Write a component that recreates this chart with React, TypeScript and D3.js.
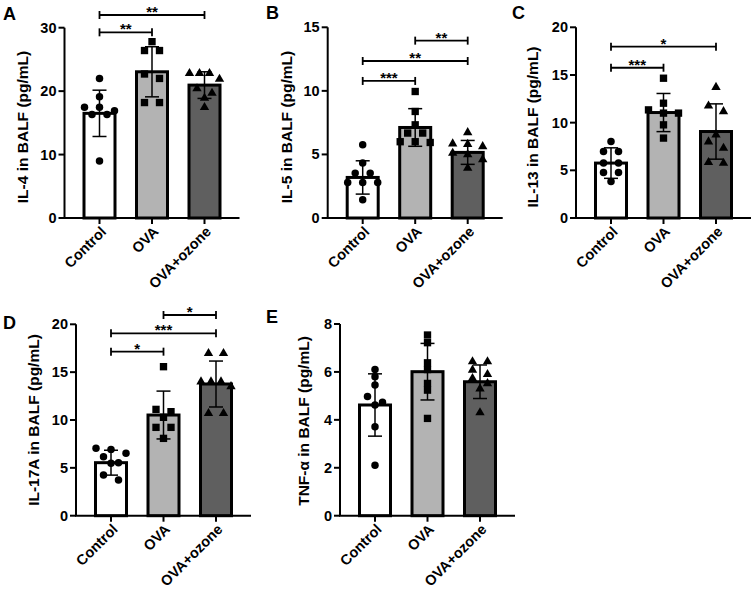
import React from 'react';
import * as d3 from 'd3';

// groups shared by every panel
const groups = ['Control', 'OVA', 'OVA+ozone'];
const fills = ['#ffffff', '#b3b3b3', '#5f5f5f'];

// A: IL-4
const il4Mean = [16.5, 23.05, 20.95];
const il4Sd = [3.65, 3.95, 2.1];
const il4Control = [22, 19.1, 17.45, 17.45, 16.9, 16.3, 16.3, 9.0];
const il4Ova = [27.8, 26.4, 26.4, 22.7, 22.0, 18.2, 18.2];
const il4Ozone = [22.8, 22.8, 22.8, 21.9, 20.4, 19.7, 18.9, 17.45];
const il4Ticks = [0, 10, 20, 30];
const il4Sig: [number, number, number, string][] = [[0, 1, 29.27, '**'], [0, 2, 32.0, '**']];

// B: IL-5
const il5Mean = [3.19, 7.12, 5.16];
const il5Sd = [1.31, 1.48, 0.94];
const il5Control = [5.76, 4.32, 3.53, 3.53, 2.8, 2.8, 2.8, 1.44];
const il5Ova = [9.95, 8.38, 7.33, 6.68, 6.68, 6.0, 6.0, 5.94];
const il5Ozone = [6.73, 5.84, 5.8, 5.63, 5.1, 5.0, 4.6, 3.93];
const il5Ticks = [0, 5, 10, 15];
const il5Sig: [number, number, number, string][] = [[0, 1, 10.78, '***'], [0, 2, 12.35, '**'], [1, 2, 13.95, '**']];

// C: IL-13
const il13Mean = [5.76, 11.06, 9.07];
const il13Sd = [1.6, 2.0, 2.9];
const il13Control = [8.03, 6.98, 6.98, 5.76, 5.76, 4.78, 4.78, 3.84];
const il13Ova = [14.66, 12.04, 11.34, 11.0, 11.0, 9.77, 8.38];
const il13Ozone = [13.72, 11.76, 11.17, 8.73, 8.0, 7.33, 5.83, 5.76];
const il13Ticks = [0, 5, 10, 15, 20];
const il13Sig: [number, number, number, string][] = [[0, 1, 15.76, '***'], [0, 2, 17.97, '*']];

// D: IL-17A
const il17Mean = [5.54, 10.52, 13.76];
const il17Sd = [1.3, 2.5, 2.4];
const il17Control = [7.04, 6.93, 6.52, 6.17, 5.54, 5.47, 4.25, 3.73];
const il17Ova = [15.57, 11.11, 10.87, 10.28, 9.23, 9.23, 8.08];
const il17Ozone = [16.97, 16.97, 14.0, 14.0, 14.0, 13.5, 10.7, 10.7];
const il17Ticks = [0, 5, 10, 15, 20];
const il17Sig: [number, number, number, string][] = [[0, 1, 17.14, '*'], [0, 2, 19.06, '***'], [1, 2, 20.97, '*']];

// E: TNF-α
const tnfMean = [4.62, 6.01, 5.59];
const tnfSd = [1.3, 1.18, 0.7];
const tnfControl = [6.1, 5.8, 5.45, 4.97, 4.73, 4.62, 3.71, 2.11];
const tnfOva = [7.54, 7.22, 6.38, 6.1, 5.52, 5.24, 4.06];
const tnfOzone = [6.43, 6.43, 6.08, 5.9, 5.73, 5.52, 5.3, 4.3];
const tnfTicks = [0, 2, 4, 6, 8];

const FONT = 'Arial, "Liberation Sans", sans-serif';
const PLOT_W = 175;
const BAR_W = 31;

type PanelDef = {
  letter: string; lx: number; ly: number;
  title: string; tx: number; ty: number;
  ax: number; y0: number; yTop: number;
  ticks: number[];
  mean: number[]; sd: number[]; points: number[][];
  sig: [number, number, number, string][];
};

const panels: PanelDef[] = [
  { letter: 'A', lx: 3, ly: 20, title: 'IL-4 in BALF (pg/mL)', tx: 22, ty: 127, ax: 64.5, y0: 218, yTop: 27.7,
    ticks: il4Ticks, mean: il4Mean, sd: il4Sd, points: [il4Control, il4Ova, il4Ozone], sig: il4Sig },
  { letter: 'B', lx: 266, ly: 19, title: 'IL-5 in BALF (pg/mL)', tx: 286, ty: 127, ax: 327.7, y0: 218, yTop: 27.3,
    ticks: il5Ticks, mean: il5Mean, sd: il5Sd, points: [il5Control, il5Ova, il5Ozone], sig: il5Sig },
  { letter: 'C', lx: 512, ly: 19, title: 'IL-13 in BALF (pg/mL)', tx: 532, ty: 127, ax: 576, y0: 218, yTop: 27.3,
    ticks: il13Ticks, mean: il13Mean, sd: il13Sd, points: [il13Control, il13Ova, il13Ozone], sig: il13Sig },
  { letter: 'D', lx: 3, ly: 329, title: 'IL-17A in BALF (pg/mL)', tx: 33, ty: 420, ax: 76, y0: 515.7, yTop: 324.3,
    ticks: il17Ticks, mean: il17Mean, sd: il17Sd, points: [il17Control, il17Ova, il17Ozone], sig: il17Sig },
  { letter: 'E', lx: 266, ly: 323, title: 'TNF-α in BALF (pg/mL)', tx: 303, ty: 421, ax: 340, y0: 515.7, yTop: 324,
    ticks: tnfTicks, mean: tnfMean, sd: tnfSd, points: [tnfControl, tnfOva, tnfOzone], sig: [] },
];

const symbols = [d3.symbolCircle, d3.symbolSquare, d3.symbolTriangle];
const symbolSizes = [44, 54, 38];

// spread points of one group into rows like a scatter dot plot
function swarm(values: number[], y: d3.ScaleLinear<number, number>) {
  const sorted = values.map((v) => ({ v, py: y(v) })).sort((a, b) => a.py - b.py);
  const rows: { v: number; py: number }[][] = [];
  sorted.forEach((p) => {
    const last = rows[rows.length - 1];
    if (last && p.py - last[0].py < 6.5) last.push(p);
    else rows.push([p]);
  });
  const out: { v: number; dx: number }[] = [];
  rows.forEach((row) => {
    const n = row.length;
    const gap = n > 1 ? Math.min(15, 30 / (n - 1)) : 0;
    row.forEach((p, i) => out.push({ v: p.v, dx: (i - (n - 1) / 2) * gap }));
  });
  return out;
}

function Panel({ p }: { p: PanelDef }) {
  const y = d3.scaleLinear().domain([0, p.ticks[p.ticks.length - 1]]).range([p.y0, p.yTop]);
  const x = d3.scalePoint<string>().domain(groups).range([p.ax, p.ax + PLOT_W]).padding(2 / 3);

  return (
    <g>
      <text x={p.lx} y={p.ly} fontSize={18} fontWeight="bold" fontFamily={FONT}>{p.letter}</text>
      <text
        transform={`translate(${p.tx},${p.ty}) rotate(-90)`}
        textAnchor="middle" dominantBaseline="central"
        fontSize={15.5} fontWeight="bold" fontFamily={FONT}
      >{p.title}</text>

      {/* bars */}
      {groups.map((g, i) => (
        <rect key={g} x={x(g)! - BAR_W / 2} y={y(p.mean[i])} width={BAR_W}
          height={p.y0 - y(p.mean[i])} fill={fills[i]} stroke="#000" strokeWidth={3} />
      ))}

      {/* error bars (mean ± SD) */}
      {groups.map((g, i) => {
        const cx = x(g)!;
        const t = y(p.mean[i] + p.sd[i]);
        const b = y(p.mean[i] - p.sd[i]);
        return (
          <g key={g} stroke="#000" strokeWidth={1.5}>
            <line x1={cx} x2={cx} y1={t} y2={b} />
            <line x1={cx - 7} x2={cx + 7} y1={t} y2={t} />
            <line x1={cx - 7} x2={cx + 7} y1={b} y2={b} />
          </g>
        );
      })}

      {/* individual points */}
      {groups.map((g, i) => {
        const path = d3.symbol().type(symbols[i]).size(symbolSizes[i])()!;
        return swarm(p.points[i], y).map((pt, j) => (
          <path key={g + j} d={path} transform={`translate(${x(g)! + pt.dx},${y(pt.v)})`} fill="#000" />
        ));
      })}

      {/* y axis */}
      <line x1={p.ax} x2={p.ax} y1={p.yTop} y2={p.y0} stroke="#000" strokeWidth={2} />
      {p.ticks.map((t) => (
        <g key={t}>
          <line x1={p.ax - 6} x2={p.ax} y1={y(t)} y2={y(t)} stroke="#000" strokeWidth={2} />
          <text x={p.ax - 8} y={y(t)} textAnchor="end" dominantBaseline="central"
            fontSize={14.5} fontWeight="bold" fontFamily={FONT}>{t}</text>
        </g>
      ))}

      {/* x axis */}
      <line x1={p.ax - 1} x2={p.ax + PLOT_W} y1={p.y0} y2={p.y0} stroke="#000" strokeWidth={2} />
      {groups.map((g) => (
        <g key={g}>
          <line x1={x(g)} x2={x(g)} y1={p.y0} y2={p.y0 + 6} stroke="#000" strokeWidth={2} />
          <text transform={`translate(${x(g)! + 4},${p.y0 + 11}) rotate(-45)`}
            textAnchor="end" dominantBaseline="central"
            fontSize={14.5} fontWeight="bold" fontFamily={FONT}>{g}</text>
        </g>
      ))}

      {/* significance brackets */}
      {p.sig.map(([a, b, v, s], k) => {
        const x1 = x(groups[a])!;
        const x2 = x(groups[b])!;
        const yy = y(v);
        return (
          <g key={k}>
            <g stroke="#000" strokeWidth={1.8}>
              <line x1={x1} x2={x2} y1={yy} y2={yy} />
              <line x1={x1} x2={x1} y1={yy - 4} y2={yy + 4} />
              <line x1={x2} x2={x2} y1={yy - 4} y2={yy + 4} />
            </g>
            <text x={(x1 + x2) / 2} y={yy + 2} textAnchor="middle"
              fontSize={15} fontWeight="bold" fontFamily={FONT}>{s}</text>
          </g>
        );
      })}
    </g>
  );
}

export default function App() {
  return (
    <svg width={753} height={591} style={{ position: 'absolute', left: 0, top: 0, background: '#fff' }}>
      {panels.map((p) => <Panel key={p.letter} p={p} />)}
    </svg>
  );
}
